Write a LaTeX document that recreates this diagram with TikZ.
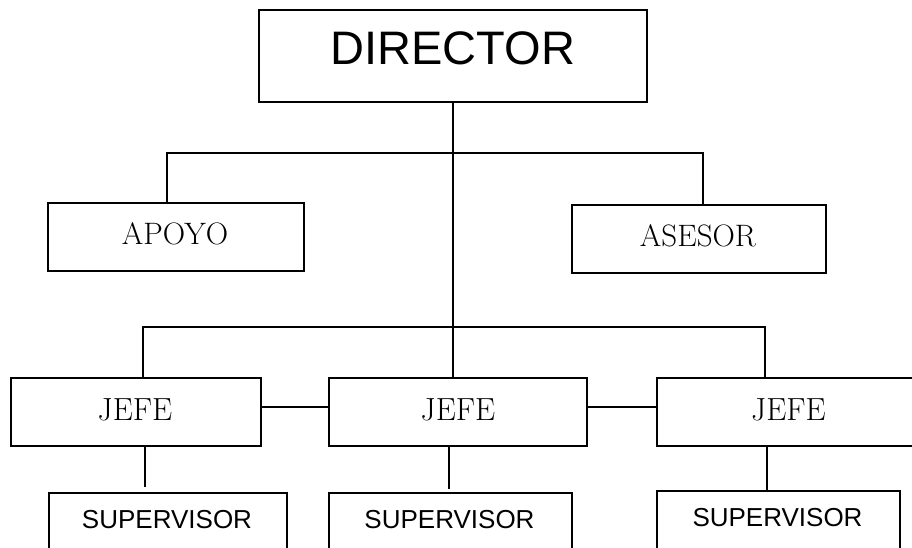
\documentclass[tikz,border=0pt]{standalone}
\usepackage{fontspec}
\newfontfamily\arialf{Liberation Sans}
\begin{document}
\begin{tikzpicture}[x=1pt,y=-1pt,
  box/.style={draw=black,line width=1.6pt,inner sep=0pt,outer sep=0pt,rectangle},
  conn/.style={draw=black,line width=1.6pt},
  sanslbl/.style={inner sep=0pt,anchor=base,font=\arialf\fontsize{26}{28}\selectfont},
  biglbl/.style={inner sep=0pt,anchor=base,font=\arialf\fontsize{47}{50}\selectfont},
  seriflbl/.style={inner sep=0pt,anchor=base,font=\fontsize{31}{34}\selectfont},
  jefelbl/.style={inner sep=0pt,anchor=base,font=\fontsize{32}{35}\selectfont}]
\fill[white] (0,0) rectangle (912,548);
\useasboundingbox (0,0) rectangle (912,548);
\clip (0,0) rectangle (912,548);
% boxes
\node[box,minimum width=388pt,minimum height=92pt] (dir) at (453,56) {};
\node[box,minimum width=256pt,minimum height=68pt] (apoyo) at (176,237) {};
\node[box,minimum width=254pt,minimum height=68pt] (asesor) at (699,239) {};
\node[box,minimum width=250pt,minimum height=68pt] (jefe1) at (136,412) {};
\node[box,minimum width=258pt,minimum height=68pt] (jefe2) at (458,412) {};
\node[box,minimum width=264pt,minimum height=68pt] (jefe3) at (789,412) {};
\node[box,minimum width=238pt,minimum height=77pt] (sup1) at (168,531.5) {};
\node[box,minimum width=243pt,minimum height=77pt] (sup2) at (450.5,531.5) {};
\node[box,minimum width=243pt,minimum height=79pt] (sup3) at (778.5,530.5) {};
% labels
\node[biglbl] (tdir) at (453,65) {DIRECTOR};
\node[seriflbl] (tapoyo) at (175,244) {APOYO};
\node[seriflbl] (tasesor) at (698,246) {ASESOR};
\node[jefelbl] (tj1) at (135,420) {JEFE};
\node[jefelbl] (tj2) at (458,420) {JEFE};
\node[jefelbl] (tj3) at (788.5,420) {JEFE};
\node[sanslbl] (ts1) at (167,528) {SUPERVISOR};
\node[sanslbl] (ts2) at (449.5,528) {SUPERVISOR};
\node[sanslbl] (ts3) at (777.5,526) {SUPERVISOR};
% connectors
\coordinate (h1) at (453,153);
\coordinate (h2) at (453,327);
\coordinate (e1) at (145,487);
\coordinate (e2) at (449,489);
\coordinate (e3) at (767,490);
\draw[conn] (dir.south) -- (h2);
\draw[conn] ([xshift=-9pt]apoyo.north) |- (h1) -| ([xshift=4pt]asesor.north);
\draw[conn] ([xshift=7pt]jefe1.north) |- (h2) -| ([xshift=-24pt]jefe3.north);
\draw[conn] (h2) -- ([xshift=-5pt]jefe2.north);
\draw[conn] ([yshift=5pt]jefe1.east) -- ([yshift=5pt]jefe2.west);
\draw[conn] ([yshift=5pt]jefe2.east) -- ([yshift=5pt]jefe3.west);
\draw[conn] ([xshift=9pt]jefe1.south) -- (e1);
\draw[conn] ([xshift=-9pt]jefe2.south) -- (e2);
\draw[conn] ([xshift=-22pt]jefe3.south) -- (e3);
\end{tikzpicture}
\end{document}
